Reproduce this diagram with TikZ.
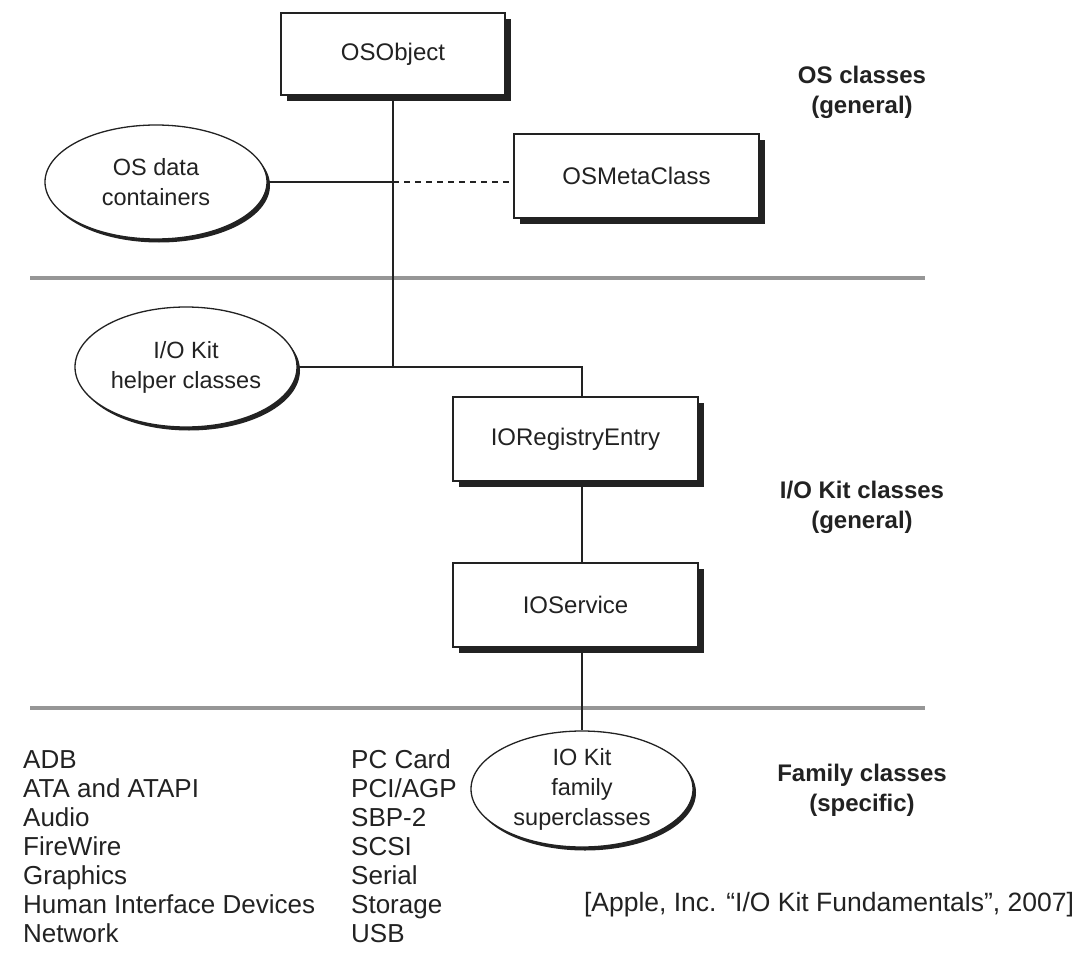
\documentclass[tikz,border=0pt]{standalone}
\usepackage{fontspec}
\setmainfont{Liberation Sans}
\usetikzlibrary{shapes.geometric,shadows}
\definecolor{ink}{HTML}{222222}
\definecolor{rule}{HTML}{969696}
\begin{document}
\begin{tikzpicture}[x=1pt,y=-1pt,
  every node/.style={text=ink, font=\fontsize{24}{30}\selectfont},
  classbox/.style={rectangle, draw=ink, line width=1.4pt, fill=white, inner sep=0pt,
    general shadow={fill=ink, draw=none, shadow xshift=6pt, shadow yshift=-6pt}},
  groupell/.style={ellipse, draw=ink, line width=1.3pt, fill=white, inner sep=0pt,
    general shadow={fill=ink, draw=none, shadow xshift=3pt, shadow yshift=-3.5pt}},
  grouptext/.style={align=center, font=\fontsize{23.5}{30}\selectfont},
  layerlabel/.style={align=center, font=\fontsize{24}{30}\selectfont\bfseries},
  listitem/.style={anchor=base west, inner sep=0pt, font=\fontsize{26}{29}\selectfont},
  link/.style={draw=ink, line width=1.6pt},
  dottedlink/.style={link, dash pattern=on 6pt off 5pt},
  sepline/.style={draw=rule, line width=3.5pt}]
\useasboundingbox (0,0) rectangle (1089,958);

% layer separators
\draw[sepline] (30,278) -- (925,278);
\draw[sepline] (30,708) -- (925,708);

% spine positions
\coordinate (spineB) at (582,0);

% class boxes
\node[classbox, minimum width=224, minimum height=82] (osobj) at (393,54) {OSObject};
\node[classbox, minimum width=245, minimum height=84] (meta) at (636.5,176) {OSMetaClass};
\node[classbox, minimum width=245, minimum height=84] (reg) at (575.5,439) {IORegistryEntry};
\node[classbox, minimum width=245, minimum height=84] (svc) at (575.5,605) {IOService};

% groups of classes
\node[groupell, minimum width=222, minimum height=114,
  label={[grouptext]center:OS data\\containers}] (osdata) at (156,182) {};
\node[groupell, minimum width=222, minimum height=120,
  label={[grouptext]center:I/O Kit\\helper classes}] (helper) at (186,367) {};
\node[groupell, minimum width=222, minimum height=116,
  label={[grouptext]center:IO Kit\\family\\superclasses}] (fam) at (582,789) {};

% connectors
\draw[link] (osobj.south) -- (osobj.south |- helper.east);
\draw[link] (helper.east) -| (reg.north -| spineB);
\draw[link] (osdata.east) -- (osdata.east -| osobj.south);
\draw[dottedlink] (osdata.east -| osobj.south) -- (osdata.east -| meta.west);
\draw[link] (reg.south -| spineB) -- (svc.north -| spineB);
\draw[link] (svc.south -| spineB) -- (fam.north);

% layer captions
\node[layerlabel] (capos) at (862,92) {OS classes\\(general)};
\node[layerlabel] (capio) at (862,507) {I/O Kit classes\\(general)};
\node[layerlabel] (capfam) at (862,790) {Family classes\\(specific)};

% families
\foreach \t [count=\i from 0] in {ADB, ATA and ATAPI, Audio, FireWire, Graphics, Human Interface Devices, Network}
  \node[listitem] (famA\i) at (23,768+29*\i) {\t};
\foreach \t [count=\i from 0] in {PC Card, PCI/AGP, SBP-2, SCSI, Serial, Storage, USB}
  \node[listitem] (famB\i) at (351,768+29*\i) {\t};

% source
\node[font=\fontsize{26.5}{30}\selectfont] (src) at (829,905) {[Apple, Inc. “I/O Kit Fundamentals”, 2007]};
\end{tikzpicture}
\end{document}
